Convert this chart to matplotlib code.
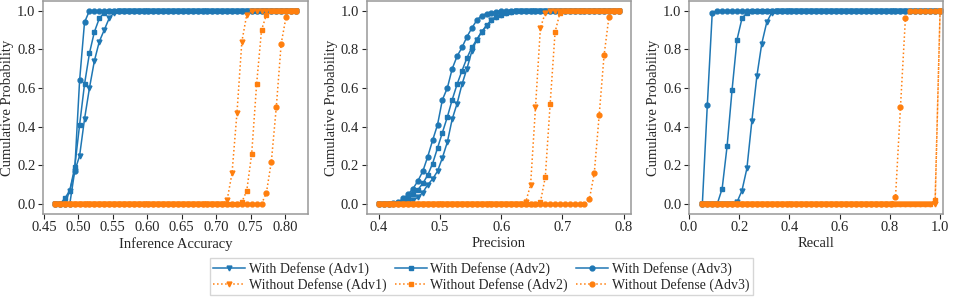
import matplotlib
matplotlib.use("Agg")
import matplotlib.pyplot as plt
import numpy as np

plt.rcParams['font.family'] = ['Liberation Serif', 'DejaVu Serif']
plt.rcParams['font.size'] = 10.5
plt.rcParams['text.color'] = '0.15'
plt.rcParams['axes.labelcolor'] = '0.15'
plt.rcParams['xtick.color'] = '0.15'
plt.rcParams['ytick.color'] = '0.15'

# evaluation grids (start, stop, number of points) per panel
acc_x = np.linspace(0.466, 0.816, 50)
prec_x = np.linspace(0.40, 0.792, 50)
rec_x = np.linspace(0.053, 1.0, 49)

# Inference Accuracy
acc_def_adv1 = [0, 0, 0, 0.07, 0.17, 0.25, 0.44, 0.60, 0.74, 0.84, 0.90, 0.96, 0.99] + [1] * 37
acc_def_adv2 = [0, 0, 0.03, 0.07, 0.19, 0.41, 0.62, 0.78, 0.89, 0.96, 0.99] + [1] * 39
acc_def_adv3 = [0, 0, 0, 0, 0.17, 0.64, 0.94] + [1] * 43
acc_nodef_adv1 = [0] * 35 + [0.02, 0.16, 0.47, 0.84, 0.98] + [1] * 10
acc_nodef_adv2 = [0] * 38 + [0.01, 0.07, 0.26, 0.62, 0.90, 0.98] + [1] * 6
acc_nodef_adv3 = [0] * 43 + [0.06, 0.22, 0.50, 0.83, 0.97] + [1] * 2

# Precision
prec_def_adv1 = [0, 0, 0, 0, 0, 0.005, 0.01, 0.02, 0.035, 0.06, 0.10, 0.13, 0.17, 0.24,
                 0.32, 0.44, 0.52, 0.62, 0.70, 0.79, 0.85, 0.89, 0.92, 0.95, 0.965, 0.98,
                 0.99, 0.995] + [1] * 22
prec_def_adv2 = [0, 0, 0, 0, 0.005, 0.015, 0.03, 0.05, 0.075, 0.107, 0.15, 0.21, 0.29, 0.37,
                 0.45, 0.54, 0.62, 0.69, 0.755, 0.81, 0.85, 0.89, 0.925, 0.95, 0.97, 0.98,
                 0.99, 0.995] + [1] * 22
prec_def_adv3 = [0, 0, 0, 0.005, 0.01, 0.03, 0.05, 0.08, 0.12, 0.17, 0.245, 0.33, 0.41, 0.54,
                 0.60, 0.70, 0.765, 0.81, 0.865, 0.91, 0.95, 0.975, 0.985, 0.99, 0.995] + [1] * 25
prec_nodef_adv1 = [0] * 30 + [0.01, 0.10, 0.50, 0.91, 0.99] + [1] * 15
prec_nodef_adv2 = [0] * 33 + [0.01, 0.14, 0.52, 0.89, 0.99] + [1] * 12
prec_nodef_adv3 = [0] * 43 + [0.025, 0.16, 0.46, 0.77, 0.97] + [1] * 2

# Recall
rec_def_adv1 = [0] * 7 + [0.01, 0.07, 0.185, 0.43, 0.66, 0.83, 0.94, 0.99] + [1] * 34
rec_def_adv2 = [0, 0, 0, 0, 0.08, 0.30, 0.59, 0.85, 0.96, 0.99] + [1] * 39
rec_def_adv3 = [0, 0.51, 0.99] + [1] * 46
rec_nodef_adv1 = [0] * 47 + [0.0, 1.0]
rec_nodef_adv2 = [0] * 47 + [0.02, 1.0]
rec_nodef_adv3 = [0] * 39 + [0.035, 0.50, 0.96] + [1] * 7

labels_def = ['With Defense (Adv1)', 'With Defense (Adv2)', 'With Defense (Adv3)']
labels_nodef = ['Without Defense (Adv1)', 'Without Defense (Adv2)', 'Without Defense (Adv3)']
markers = ['v', 's', 'o']

acc_ticks = [0.45, 0.50, 0.55, 0.60, 0.65, 0.70, 0.75, 0.80]
prec_ticks = [0.4, 0.5, 0.6, 0.7, 0.8]
rec_ticks = [0.0, 0.2, 0.4, 0.6, 0.8, 1.0]

panels = [
    ('Inference Accuracy', acc_x, [acc_def_adv1, acc_def_adv2, acc_def_adv3],
     [acc_nodef_adv1, acc_nodef_adv2, acc_nodef_adv3], None, acc_ticks, '%.2f'),
    ('Precision', prec_x, [prec_def_adv1, prec_def_adv2, prec_def_adv3],
     [prec_nodef_adv1, prec_nodef_adv2, prec_nodef_adv3], None, prec_ticks, '%.1f'),
    ('Recall', rec_x, [rec_def_adv1, rec_def_adv2, rec_def_adv3],
     [rec_nodef_adv1, rec_nodef_adv2, rec_nodef_adv3], (0.0, 1.01), rec_ticks, '%.1f'),
]

positions = [(0.045, 0.285, 0.2775, 0.7115),
             (0.384, 0.285, 0.2765, 0.7115),
             (0.7215, 0.285, 0.2655, 0.7115)]

fig = plt.figure(figsize=(9.55, 2.99), dpi=100)
handles = {}
for (xlabel, x, ys_def, ys_nodef, xlim, ticks, fmt), pos in zip(panels, positions):
    ax = fig.add_axes(pos)
    for y, m, lab in zip(ys_def, markers, labels_def):
        h, = ax.plot(x, y, color='#1f77b4', linestyle='-', marker=m,
                     markersize=3.5, linewidth=1.1, label=lab)
        handles[lab] = h
    for y, m, lab in zip(ys_nodef, markers, labels_nodef):
        h, = ax.plot(x, y, color='#ff7f0e', linestyle=':', marker=m,
                     markersize=3.5, linewidth=1.1, label=lab)
        handles[lab] = h
    if xlim is not None:
        ax.set_xlim(*xlim)
    ax.set_xticks(ticks)
    ax.set_xticklabels([fmt % t for t in ticks])
    ax.set_yticks([0.0, 0.2, 0.4, 0.6, 0.8, 1.0])
    ax.set_xlabel(xlabel, labelpad=2)
    ax.set_ylabel('Cumulative Probability', labelpad=2)
    for s in ax.spines.values():
        s.set_color('0.6')
        s.set_linewidth(1.1)
    ax.tick_params(length=3.5, width=0.8, pad=2)

order = []
for a, b in zip(labels_def, labels_nodef):
    order += [a, b]
fig.legend([handles[k] for k in order], order, loc='center',
           bbox_to_anchor=(0.504, 0.074), ncol=3, fontsize=10,
           frameon=True, edgecolor='0.8', fancybox=False,
           handlelength=2.3, columnspacing=0.6, handletextpad=0.25,
           borderpad=0.25, labelspacing=0.15)

fig.savefig('out.png', dpi=100)
